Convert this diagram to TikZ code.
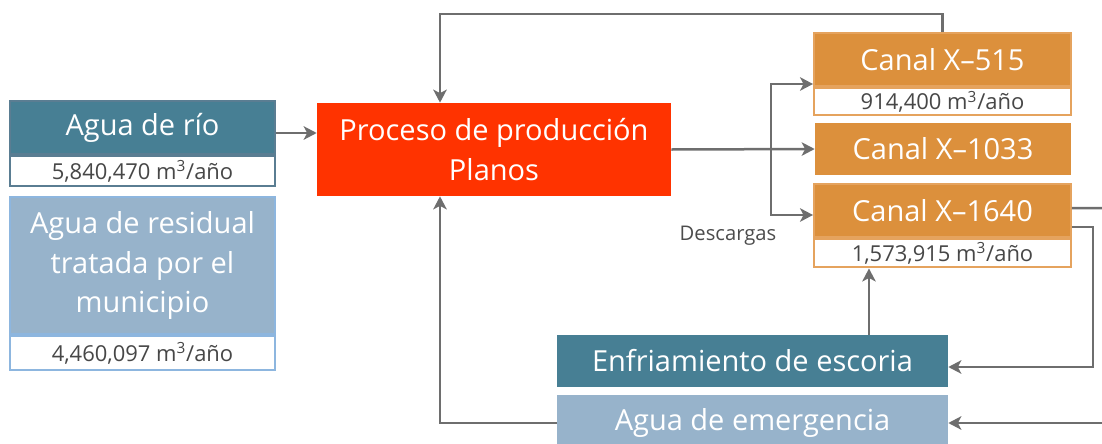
\documentclass[tikz,border=0pt]{standalone}
\usepackage{fontspec}
\setmainfont{Open Sans}
\usetikzlibrary{positioning,arrows.meta}

\definecolor{aguaosc}{HTML}{477F94}
\definecolor{aguaosb}{HTML}{5A7D92}
\definecolor{aguacla}{HTML}{97B3CB}
\definecolor{aguaclb}{HTML}{8DB6DF}
\definecolor{canal}{HTML}{DC903C}
\definecolor{canalb}{HTML}{E5A35E}
\definecolor{proceso}{HTML}{FF3300}
\definecolor{flecha}{HTML}{6E6E6E}

\tikzset{
  head/.style={fill=#1, text=white, inner sep=0pt, align=center,
    font=\fontsize{16.5}{22.5}\selectfont},
  cifra/.style={draw=#1, line width=0.05cm, fill=white, text=black!72,
    inner sep=0pt, font=\fontsize{12.5}{14}\selectfont},
  flujo/.style={draw=flecha, line width=0.05cm,
    -{Stealth[length=0.26cm,width=0.27cm,inset=0.07cm]}}
}

\begin{document}
\begin{tikzpicture}[x=0.02cm,y=-0.02cm]
  \useasboundingbox (0,0) rectangle (1102,443);

  % Entradas
  \node[head=aguaosc, draw=aguaosb, line width=0.04cm, minimum width=5.3cm, minimum height=1.06cm] (rio) at (142.5,127.5) {Agua de río};
  \node[cifra=aguaosb, minimum width=5.3cm, minimum height=0.6cm, below=0pt of rio] (rioval) {5,840,470 m\textsuperscript{3}/año};
  \node[head=aguacla, draw=aguaclb, line width=0.04cm, minimum width=5.3cm, minimum height=2.74cm] (resid) at (142.5,265.5) {Agua de residual\\tratada por el\\municipio};
  \node[cifra=aguaclb, minimum width=5.3cm, minimum height=0.68cm, below=0pt of resid] (residval) {4,460,097 m\textsuperscript{3}/año};

  % Proceso
  \node[head=proceso, minimum width=7.08cm, minimum height=1.86cm] (proc) at (494,149.5) {Proceso de producción\\Planos};

  % Canales
  \node[head=canal, draw=canalb, line width=0.04cm, minimum width=5.14cm, minimum height=1.06cm] (c515) at (942.5,59.5) {Canal X–515};
  \node[cifra=canalb, minimum width=5.14cm, minimum height=0.54cm, below=0pt of c515] (c515val) {914,400 m\textsuperscript{3}/año};
  \node[head=canal, minimum width=5.12cm, minimum height=1.04cm] (c1033) at (943,149) {Canal X–1033};
  \node[head=canal, draw=canalb, line width=0.04cm, minimum width=5.14cm, minimum height=1.06cm] (c1640) at (942.5,210.5) {Canal X–1640};
  \node[cifra=canalb, minimum width=5.14cm, minimum height=0.56cm, below=0pt of c1640] (c1640val) {1,573,915 m\textsuperscript{3}/año};

  % Enfriamiento y emergencia
  \node[head=aguaosc, minimum width=7.82cm, minimum height=1.04cm] (enf) at (752.5,361) {Enfriamiento de escoria};
  \node[head=aguacla, minimum width=7.82cm, minimum height=1.12cm] (emer) at (752.5,423) {Agua de emergencia};

  \node[text=black!70, font=\fontsize{11.5}{13}\selectfont] (desc) at (728,236) {Descargas};

  % Flujos
  \coordinate (top) at (440,14);
  \coordinate (split) at (771,149);
  \coordinate (out) at (1102,208);
  \coordinate (in) at (1102,423);
  \draw[flujo] ([yshift=-0.11cm]rio.east) -- ([yshift=-0.11cm]rio.east -| proc.west);
  \draw[flujo] (c515.north) |- (top) -- (top |- proc.north);
  \draw[flujo] (proc.east) -- (c1033.west);
  \draw[flujo] (split) |- ([yshift=0.06cm]c515.south west);
  \draw[flujo] (split) |- ([yshift=-0.09cm]c1640.west);
  \draw[draw=flecha, line width=0.05cm] ([yshift=0.05cm]c1640.east) -- (out);
  \draw[flujo] ([yshift=-0.33cm]c1640.east) -- ++(21,0) |- ([yshift=-0.12cm]enf.east);
  \draw[flujo] ([xshift=2.33cm]enf.north) -- ([xshift=2.33cm]enf.north |- c1640val.south);
  \draw[flujo] (in) -- (emer.east);
  \draw[flujo] (emer.west) -| (top |- proc.south);

\end{tikzpicture}
\end{document}
